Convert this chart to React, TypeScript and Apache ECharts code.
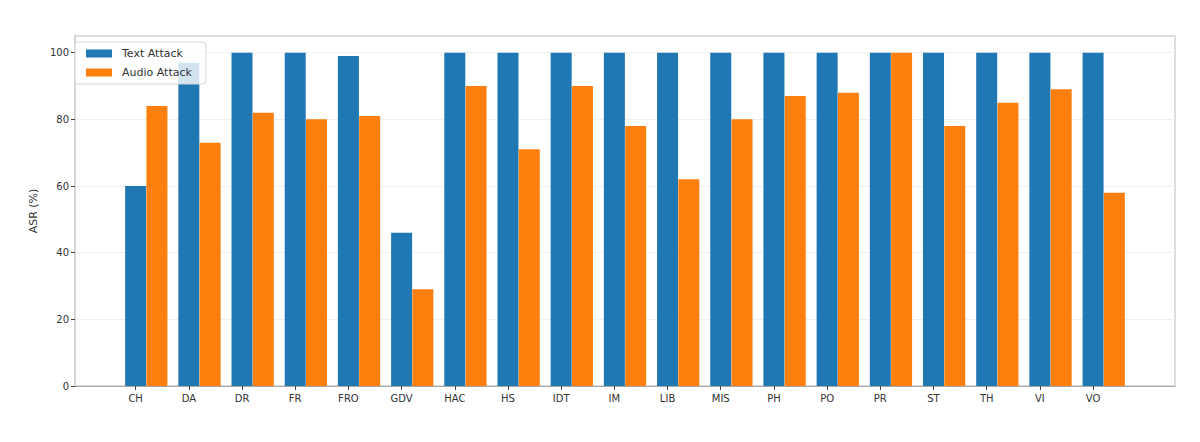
import { useRef, useEffect } from 'react'
import * as echarts from 'echarts'

const categories = ['CH', 'DA', 'DR', 'FR', 'FRO', 'GDV', 'HAC', 'HS', 'IDT', 'IM', 'LIB', 'MIS', 'PH', 'PO', 'PR', 'ST', 'TH', 'VI', 'VO']
const textAttack = [60, 97, 100, 100, 99, 46, 100, 100, 100, 100, 100, 100, 100, 100, 100, 100, 100, 100, 100]
const audioAttack = [84, 73, 82, 80, 81, 29, 90, 71, 90, 78, 62, 80, 87, 88, 100, 78, 85, 89, 58]
const yTicks = [0, 20, 40, 60, 80, 100]

// matplotlib-like offsets: text bar at i, audio bar at i + 0.4
const BAR_OFFSET = 0.4
const FONT = 'DejaVu Sans'

export default function App() {
  const chartRef = useRef<HTMLDivElement>(null)

  useEffect(() => {
    if (!chartRef.current) return
    const chart = echarts.init(chartRef.current, null, { renderer: 'svg' })
    const positions = categories.map((_, i) => i)

    chart.setOption({
      animation: false,
      textStyle: { fontFamily: FONT },
      grid: {
        left: 75,
        right: 25,
        top: 36,
        bottom: 56,
        show: true,
        borderColor: '#d2d2d2',
        borderWidth: 1.5,
        backgroundColor: '#fff',
      },
      legend: {
        orient: 'vertical',
        left: 75,
        top: 42,
        itemWidth: 26,
        itemHeight: 8,
        itemGap: 8,
        padding: [6, 14, 6, 11],
        backgroundColor: 'rgba(255,255,255,0.8)',
        borderColor: '#d8d8d8',
        borderWidth: 1,
        borderRadius: 3,
        textStyle: { fontFamily: FONT, fontSize: 11, color: '#333', padding: [0, 0, 0, 5] },
        icon: 'rect',
        data: ['Text Attack', 'Audio Attack'],
      },
      xAxis: {
        type: 'value',
        min: -1.14,
        max: 19.54,
        splitLine: { show: false },
        axisLine: { show: true, onZero: false, lineStyle: { color: '#a8a8a8', width: 1.2 } },
        axisTick: { show: true, customValues: positions, length: 4, lineStyle: { color: '#444' } },
        axisLabel: {
          customValues: positions,
          formatter: (v: number) => categories[Math.round(v)] ?? '',
          fontSize: 10,
          color: '#333',
          margin: 7,
          fontFamily: FONT,
        },
      },
      yAxis: {
        type: 'value',
        min: 0,
        max: 105,
        interval: 20,
        name: 'ASR (%)',
        nameLocation: 'middle',
        nameGap: 36,
        nameTextStyle: { fontSize: 11, color: '#333', fontFamily: FONT },
        axisLine: { show: true, onZero: false, lineStyle: { color: '#d2d2d2', width: 1.5 } },
        axisTick: { show: true, customValues: yTicks, length: 4, lineStyle: { color: '#444' } },
        axisLabel: { customValues: yTicks, fontSize: 10, color: '#333', margin: 6, fontFamily: FONT },
        splitLine: { show: true, lineStyle: { color: '#efefef', width: 1 } },
      },
      series: [
        {
          name: 'Text Attack',
          type: 'bar',
          barWidth: 21,
          barGap: '-100%',
          itemStyle: { color: '#1f77b4' },
          data: textAttack.map((v, i) => [positions[i], v]),
        },
        {
          name: 'Audio Attack',
          type: 'bar',
          barWidth: 21,
          barGap: '-100%',
          itemStyle: { color: '#ff7f0e' },
          data: audioAttack.map((v, i) => [positions[i] + BAR_OFFSET, v]),
        },
      ],
    })

    return () => {
      chart.dispose()
    }
  }, [])

  return <div ref={chartRef} style={{ width: 1200, height: 442, margin: -8 }} />
}
